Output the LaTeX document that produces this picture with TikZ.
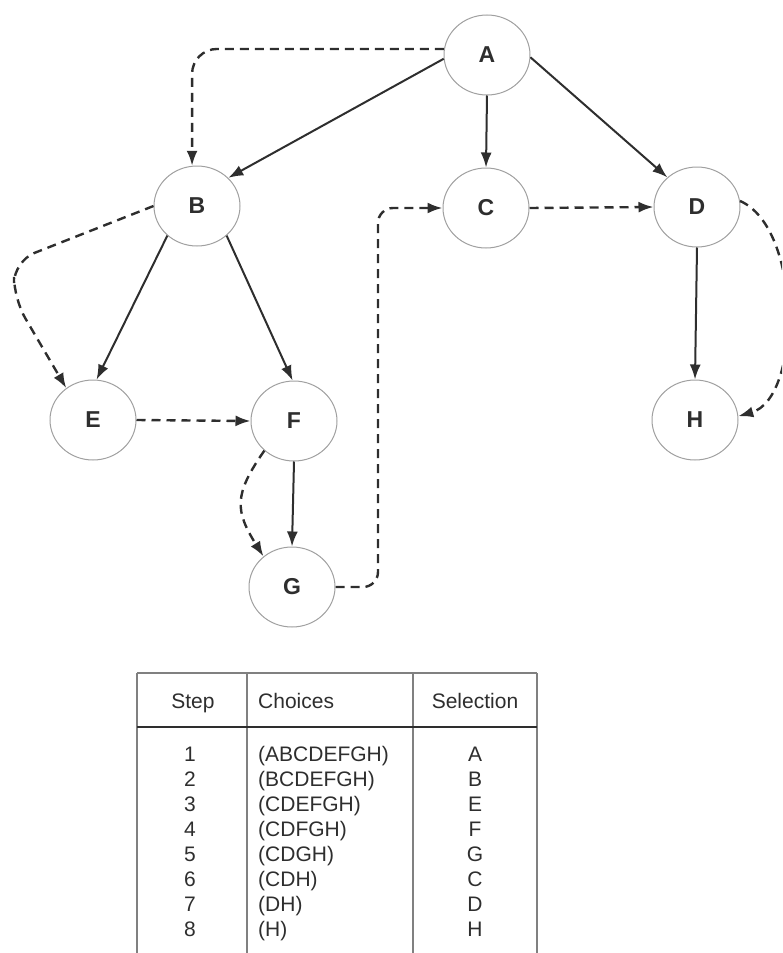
\documentclass[tikz,border=0pt]{standalone}
\usepackage{fontspec}
\setmainfont{Liberation Sans}
\usetikzlibrary{arrows.meta,shapes.geometric}
\definecolor{ink}{HTML}{2E2E2E}
\definecolor{ring}{HTML}{A0A0A0}
\begin{document}
\begin{tikzpicture}[x=1pt,y=-1pt,
  vert/.style={ellipse, draw=ring, line width=1pt, minimum width=86pt, minimum height=80pt, inner sep=0pt, font=\fontsize{23}{27}\selectfont\bfseries, text=ink},
  tree/.style={draw=ink, line width=2pt, -{Latex[length=15pt,width=11pt]}},
  visit/.style={draw=ink, line width=2.4pt, dash pattern=on 9pt off 6pt, -{Latex[length=15pt,width=11pt]}},
  grid/.style={draw=ring!80!black, line width=1.2pt},
  cell/.style={font=\fontsize{21}{25}\selectfont, text=ink, inner sep=0pt}]
\useasboundingbox (0,0) rectangle (782,953);
\clip (0,0) rectangle (782,953);

% nodes
\node[vert] (A) at (487,55) {A};
\node[vert] (B) at (197,206) {B};
\node[vert] (C) at (486,208) {C};
\node[vert] (D) at (697,207) {D};
\node[vert] (E) at (93,420) {E};
\node[vert] (F) at (294,421) {F};
\node[vert] (G) at (292,587) {G};
\node[vert] (H) at (695,420) {H};

% waypoints
\coordinate (be1) at (14,261);
\coordinate (be2) at (14,299);
\coordinate (gc) at (378,208);
\coordinate (dh1) at (802,228);
\coordinate (dh2) at (802,398);

% tree edges
\draw[tree] (A.185) -- (B.42);
\draw[tree] (A.south) -- (C.north);
\draw[tree] (A.357) -- (D.135);
\draw[tree] (B.225) -- (E.85);
\draw[tree] (B.315) -- (F.92);
\draw[tree] (D.south) -- (H.north);
\draw[tree] (F.south) -- (G.north);

% traversal edges
\draw[visit, rounded corners=25pt] (A.172) -| (B.97);
\draw[visit, rounded corners=22pt] (B.180) -- (be1) -- (be2) -- (E.130);
\draw[visit] (E.east) -- (F.west);
\draw[visit] (F.225) to[out=235,in=122,looseness=1.3] (G.133);
\draw[visit, rounded corners=15pt] (G.east) -| (gc) -- (C.west);
\draw[visit] (C.east) -- (D.west);
\draw[visit] (D.8) .. controls (dh1) and (dh2) .. (H.5);

% table
\draw[grid] (137,673) -- (537,673);
\draw[grid] (137,673) -- (137,960);
\draw[grid] (247,673) -- (247,960);
\draw[grid] (413,673) -- (413,960);
\draw[grid] (537,673) -- (537,960);
\draw[draw=ink, line width=2pt] (137,727) -- (537,727);

\node[cell, anchor=base] (hstep) at (193,708) {Step};
\node[cell, anchor=base west] (hchoice) at (258,708) {Choices};
\node[cell, anchor=base] (hsel) at (475,708) {Selection};

\foreach \c/\s [count=\i] in {(ABCDEFGH)/A,(BCDEFGH)/B,(CDEFGH)/E,(CDFGH)/F,(CDGH)/G,(CDH)/C,(DH)/D,(H)/H} {
  \node[cell, anchor=base] (step\i) at (190,{761+25.1*(\i-1)}) {\i};
  \node[cell, anchor=base west] (choice\i) at (258,{761+25.1*(\i-1)}) {\c};
  \node[cell, anchor=base] (sel\i) at (475,{761+25.1*(\i-1)}) {\s};
}
\end{tikzpicture}
\end{document}
